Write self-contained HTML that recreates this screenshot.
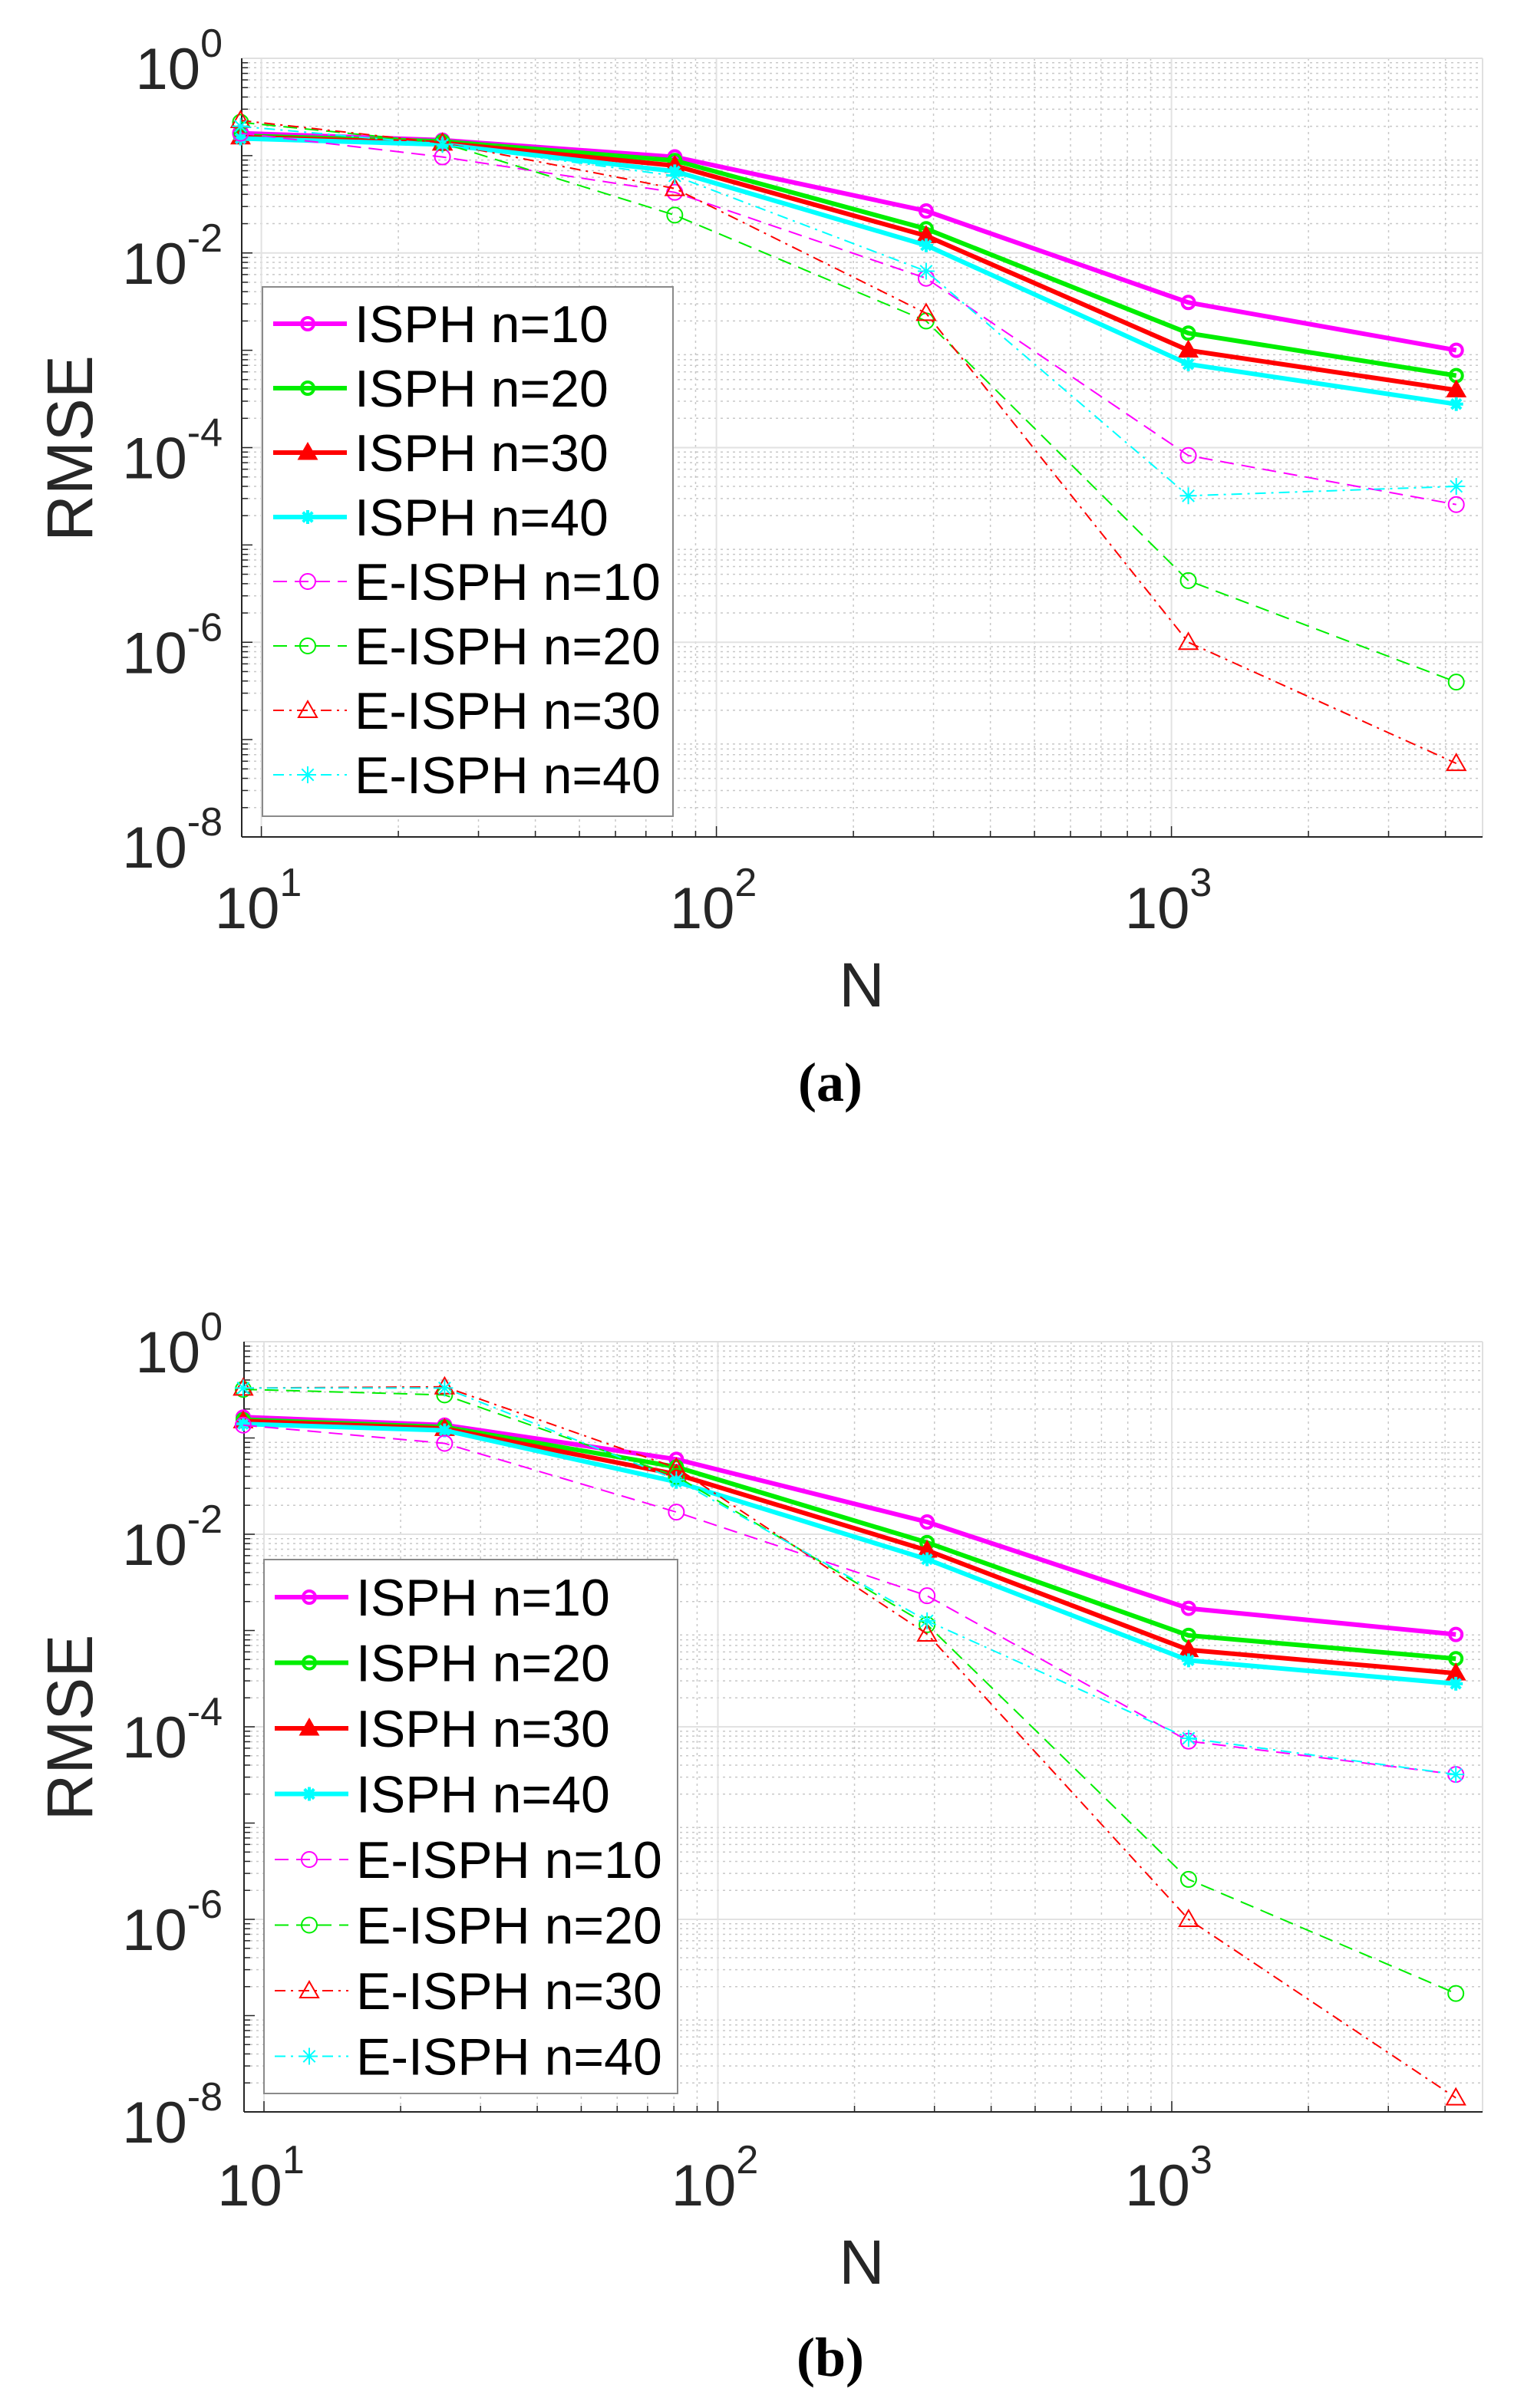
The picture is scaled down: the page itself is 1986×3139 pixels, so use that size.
<!DOCTYPE html>
<html><head><meta charset="utf-8">
<style>
html,body{margin:0;padding:0;background:#fff;}
svg{display:block;}
text{font-family:"Liberation Sans",Arial,sans-serif;fill:#262626;}
</style></head>
<body>
<svg id="root" width="1986" height="3139" viewBox="0 0 1986 3139" xmlns="http://www.w3.org/2000/svg"></svg>
<script>
// ---- data ----
const nValues = [9, 25, 81, 289, 1089, 4225];
const seriesNames = ["ISPH n=10","ISPH n=20","ISPH n=30","ISPH n=40","E-ISPH n=10","E-ISPH n=20","E-ISPH n=30","E-ISPH n=40"];
// panel (a)
const a_isph10 = [0.17, 0.144, 0.097, 0.027, 3.1e-3, 1.0e-3];
const a_isph20 = [0.16, 0.14, 0.089, 0.0177, 1.5e-3, 5.5e-4];
const a_isph30 = [0.155, 0.135, 0.079, 0.015, 1.0e-3, 3.9e-4];
const a_isph40 = [0.15, 0.13, 0.069, 0.012, 7.2e-4, 2.8e-4];
const a_eisph10 = [0.17, 0.097, 0.042, 5.5e-3, 8.3e-5, 2.6e-5];
const a_eisph20 = [0.22, 0.135, 0.0245, 2.0e-3, 4.3e-6, 3.9e-7];
const a_eisph30 = [0.23, 0.135, 0.046, 2.4e-3, 1.0e-6, 5.7e-8];
const a_eisph40 = [0.2, 0.13, 0.062, 6.5e-3, 3.2e-5, 4.0e-5];
// panel (b)
const b_isph10 = [0.165, 0.136, 0.06, 0.0134, 1.7e-3, 9.1e-4];
const b_isph20 = [0.155, 0.13, 0.05, 8.2e-3, 8.9e-4, 5.1e-4];
const b_isph30 = [0.15, 0.125, 0.042, 6.8e-3, 6.3e-4, 3.6e-4];
const b_isph40 = [0.14, 0.12, 0.035, 5.5e-3, 4.9e-4, 2.8e-4];
const b_eisph10 = [0.136, 0.088, 0.017, 2.3e-3, 7.1e-5, 3.2e-5];
const b_eisph20 = [0.32, 0.28, 0.04, 1.15e-3, 2.6e-6, 1.7e-7];
const b_eisph30 = [0.33, 0.34, 0.049, 9.2e-4, 1.0e-6, 1.4e-8];
const b_eisph40 = [0.33, 0.33, 0.037, 1.26e-3, 7.6e-5, 3.2e-5];
const yTickExps = [0, -2, -4, -6, -8];
const xTickExps = [1, 2, 3];

const NS = "http://www.w3.org/2000/svg";
const root = document.getElementById('root');
function mk(tag, attrs, parent){
  const e = document.createElementNS(NS, tag);
  for (const k in attrs) e.setAttribute(k, attrs[k]);
  (parent||root).appendChild(e);
  return e;
}
const colors = ["#ff00ff","#00ee00","#ff0000","#00ffff","#ff00ff","#00ee00","#ff0000","#00ffff"];
const markers = ["circle","circle","triangle","star","circle","circle","triangle","star"];
const dashes = [null,null,null,null,"18 10","18 10","14 7 3 7","14 7 3 7"];

function drawMarker(g, type, x, y, color, thick){
  const sw = thick ? 4 : 2;
  const r = thick ? 8 : 10;
  let m;
  if (type === "circle") {
    m = mk('circle', {cx:x, cy:y, r:r, fill:'none', stroke:color, 'stroke-width':sw}, g);
  } else if (type === "triangle") {
    const h = thick ? 10 : 12;
    m = mk('polygon', {points:`${x},${y-h} ${x+h},${y+h*0.75} ${x-h},${y+h*0.75}`, fill: thick?color:'none', stroke:color, 'stroke-width':sw}, g);
  } else {
    const s = thick ? 9 : 11;
    const d = `M${x-s},${y}L${x+s},${y}M${x},${y-s}L${x},${y+s}M${x-s*0.7},${y-s*0.7}L${x+s*0.7},${y+s*0.7}M${x-s*0.7},${y+s*0.7}L${x+s*0.7},${y-s*0.7}`;
    m = mk('path', {d:d, fill:'none', stroke:color, 'stroke-width':sw}, g);
  }
  
  
}

function drawPanel(cfg){
  const {id, top, bottom, left, right, xt1, xdec, xLabelBase, nBase, capBase, capText, legend, data} = cfg;
  const g = mk('g', {});
  
  
  const ydec = (bottom - top) / 8;
  const yS = v => top + (-Math.log10(v)) * ydec;
  const xS = v => xt1 + (Math.log10(v) - 1) * xdec;

  const grid = mk('g', {}, g);
  
  
  for (let e = 0; e > -8; e--) {
    for (let k = 2; k <= 9; k++) {
      const y = yS(k * Math.pow(10, e - 1));
      if (y > top && y < bottom) mk('line', {x1:left, x2:right, y1:y, y2:y, stroke:'#c8c8c8', 'stroke-width':1.5, 'stroke-dasharray':'3 5'}, grid);
    }
  }
  for (let e = 0; e <= 4; e++) {
    for (let k = 1; k <= 9; k++) {
      const v = k * Math.pow(10, e);
      const x = xS(v);
      if (x <= left || x >= right) continue;
      if (k === 1) mk('line', {x1:x, x2:x, y1:top, y2:bottom, stroke:'#e2e2e2', 'stroke-width':2}, grid);
      else mk('line', {x1:x, x2:x, y1:top, y2:bottom, stroke:'#c8c8c8', 'stroke-width':1.5, 'stroke-dasharray':'3 5'}, grid);
    }
  }
  for (let e = 0; e >= -8; e -= 2) {
    const y = yS(Math.pow(10, e));
    mk('line', {x1:left, x2:right, y1:y, y2:y, stroke:'#e2e2e2', 'stroke-width':2}, grid);
  }
  mk('line', {x1:left, x2:right, y1:top, y2:top, stroke:'#e0e0e0', 'stroke-width':2}, g);
  mk('line', {x1:right, x2:right, y1:top, y2:bottom, stroke:'#e0e0e0', 'stroke-width':2}, g);
  const xAxis = mk('line', {x1:left, x2:right, y1:bottom, y2:bottom, stroke:'#262626', 'stroke-width':2}, g);
  
  
  const yAxis = mk('line', {x1:left, x2:left, y1:top, y2:bottom, stroke:'#262626', 'stroke-width':2}, g);
  
  
  for (let e = 0; e > -8; e--) {
    for (let k = 1; k <= 9; k++) {
      const y = yS(k * Math.pow(10, e - 1));
      if (y < top || y > bottom) continue;
      const len = k === 1 ? 14 : 8;
      mk('line', {x1:left, x2:left + len, y1:y, y2:y, stroke:'#262626', 'stroke-width':1.5}, g);
    }
  }
  for (let e = 0; e <= 4; e++) {
    for (let k = 1; k <= 9; k++) {
      const x = xS(k * Math.pow(10, e));
      if (x <= left || x >= right) continue;
      const len = k === 1 ? 14 : 8;
      mk('line', {x1:x, x2:x, y1:bottom, y2:bottom - len, stroke:'#262626', 'stroke-width':1.5}, g);
    }
  }
  yTickExps.forEach(e => {
    const y = yS(Math.pow(10, e));
    const t = mk('text', {x:290, y:y + 40, 'text-anchor':'end', 'font-size':76}, g);
    
    
    const s1 = mk('tspan', {}, t); s1.textContent = '10';
    const s2 = mk('tspan', {dy:-42, 'font-size':52}, t); s2.textContent = String(e);
  });
  xTickExps.forEach(e => {
    const x = xS(Math.pow(10, e));
    const t = mk('text', {x:x - 4, y:xLabelBase, 'text-anchor':'middle', 'font-size':76}, g);
    
    
    const s1 = mk('tspan', {}, t); s1.textContent = '10';
    const s2 = mk('tspan', {dy:-42, 'font-size':52}, t); s2.textContent = String(e);
  });
  const yt = mk('text', {x:0, y:0, 'text-anchor':'middle', 'font-size':84, transform:`translate(120,${(top+bottom)/2 + 1}) rotate(-90)`}, g);
  
  
  yt.textContent = 'RMSE';
  const xt = mk('text', {x:1123, y:nBase, 'text-anchor':'middle', 'font-size':82}, g);
  
  
  xt.textContent = 'N';
  const cap = mk('text', {x:1082, y:capBase, 'text-anchor':'middle', 'font-size':72, 'font-weight':'bold', style:'font-family:"Liberation Serif",serif;fill:#000'}, g);
  
  
  cap.textContent = capText;

  data.forEach((vals, i) => {
    const thick = i < 4;
    const sg = mk('g', {}, g);
    
    
    const pts = vals.map((v, j) => `${xS(nValues[j]).toFixed(1)},${yS(v).toFixed(1)}`).join(' ');
    const attrs = {points:pts, fill:'none', stroke:colors[i], 'stroke-width': thick ? 6 : 2, 'stroke-linejoin':'round'};
    if (dashes[i]) attrs['stroke-dasharray'] = dashes[i];
    const pl = mk('polyline', attrs, sg);
    
    
    vals.forEach((v, j) => drawMarker(sg, markers[i], xS(nValues[j]), yS(v), colors[i], thick));
  });

  const lg = mk('g', {}, g);
  
  
  mk('rect', {x:legend.x, y:legend.y, width:legend.w, height:legend.h, fill:'#fff', stroke:'#8a8a8a', 'stroke-width':2}, lg);
  seriesNames.forEach((name, i) => {
    const cy = legend.row0 + i * legend.step;
    const thick = i < 4;
    const eg = mk('g', {}, lg);
    
    
    const la = {x1:legend.x + 14, x2:legend.x + 110, y1:cy, y2:cy, stroke:colors[i], 'stroke-width': thick ? 6 : 2};
    if (dashes[i]) la['stroke-dasharray'] = dashes[i];
    mk('line', la, eg);
    drawMarker(eg, markers[i], legend.x + 59, cy, colors[i], thick);
    const t = mk('text', {x:legend.x + 120, y:cy + 24, 'font-size':68, style:'fill:#000'}, eg);
    t.textContent = name;
  });
}

drawPanel({id:'a', top:76, bottom:1091, left:315, right:1932, xt1:340.6, xdec:593,
  xLabelBase:1210, nBase:1312, capBase:1435, capText:'(a)',
  legend:{x:342, y:374, w:535, h:690, row0:422, step:84},
  data:[a_isph10,a_isph20,a_isph30,a_isph40,a_eisph10,a_eisph20,a_eisph30,a_eisph40]});
drawPanel({id:'b', top:1749, bottom:2753, left:318, right:1932, xt1:344, xdec:591.5,
  xLabelBase:2875, nBase:2977, capBase:3097, capText:'(b)',
  legend:{x:344, y:2033, w:539, h:696, row0:2082, step:85.5},
  data:[b_isph10,b_isph20,b_isph30,b_isph40,b_eisph10,b_eisph20,b_eisph30,b_eisph40]});
</script>
</body></html>
